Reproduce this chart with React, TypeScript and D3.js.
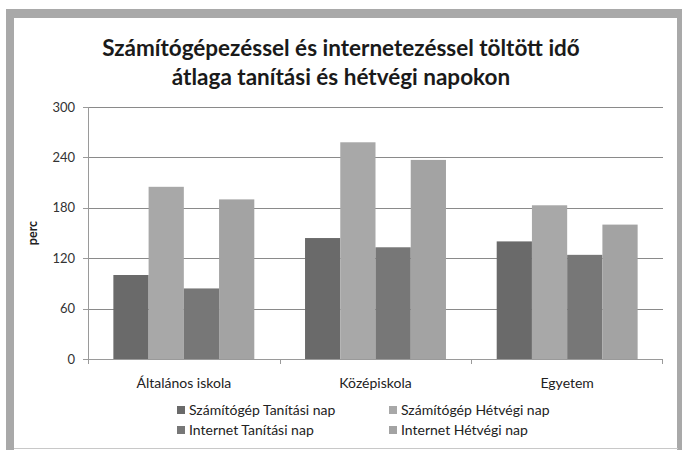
import React from "react";
import * as d3 from "d3";

const categories = ["Általános iskola", "Középiskola", "Egyetem"];
const seriesNames = [
  "Számítógép Tanítási nap",
  "Számítógép Hétvégi nap",
  "Internet Tanítási nap",
  "Internet Hétvégi nap",
];
const szamitogepTanitasi = [100, 144, 140];
const szamitogepHetvegi = [205, 258, 183];
const internetTanitasi = [84, 133, 124];
const internetHetvegi = [190, 237, 160];
const yTicks = [0, 60, 120, 180, 240, 300];
const titleLines = [
  "Számítógépezéssel és internetezéssel töltött idő",
  "átlaga tanítási és hétvégi napokon",
];
const yAxisLabel = "perc";

const seriesValues = [szamitogepTanitasi, szamitogepHetvegi, internetTanitasi, internetHetvegi];
const colors = ["#6a6a6a", "#a8a8a8", "#777777", "#a3a3a3"];

const W = 682;
const H = 450;
const plot = { left: 88, right: 663, top: 107, bottom: 359 };
const font = "Lato, 'Open Sans', sans-serif";

export default function App() {
  const x0 = d3
    .scaleBand<string>()
    .domain(categories)
    .range([plot.left, plot.right])
    .paddingInner(0)
    .paddingOuter(0);
  const inner = d3
    .scaleBand<number>()
    .domain(d3.range(seriesNames.length))
    .range([0, x0.bandwidth()])
    .paddingInner(0)
    .paddingOuter(0.72);
  const y = d3.scaleLinear().domain([0, 300]).range([plot.bottom, plot.top]);

  const legendPos = [
    { x: 177, y: 410 },
    { x: 389, y: 410 },
    { x: 177, y: 430 },
    { x: 389, y: 430 },
  ];

  return (
    <div style={{ position: "absolute", left: 0, top: 0 }}>
      <svg width={W} height={H} style={{ display: "block" }}>
        <rect x={0} y={0} width={W} height={H} fill="#ffffff" />
        {/* frame */}
        <rect x={6} y={9} width={676} height={9} fill="#a9a9a9" />
        <rect x={6} y={9} width={8} height={441} fill="#a9a9a9" />
        <rect x={677} y={9} width={5} height={441} fill="#a9a9a9" />
        <line x1={14} x2={678} y1={448.5} y2={448.5} stroke="#c8c8c8" />

        {/* title */}
        {titleLines.map((t, i) => (
          <text
            key={i}
            x={341}
            y={56 + i * 29}
            textAnchor="middle"
            fontFamily={font}
            fontWeight="bold"
            fontSize={22.5}
            fill="#1a1a1a"
          >
            {t}
          </text>
        ))}

        {/* gridlines */}
        {yTicks.map((t) => (
          <g key={t}>
            {t > 0 && (
              <line
                x1={plot.left}
                x2={plot.right}
                y1={Math.round(y(t)) + 0.5}
                y2={Math.round(y(t)) + 0.5}
                stroke="#8a8a8a"
                strokeWidth={1}
              />
            )}
            <line
              x1={plot.left - 5}
              x2={plot.left}
              y1={Math.round(y(t)) + 0.5}
              y2={Math.round(y(t)) + 0.5}
              stroke="#9a9a9a"
            />
            <text
              x={75}
              y={y(t) + 4.5}
              textAnchor="end"
              fontFamily={font}
              fontSize={13}
              fill="#333"
            >
              {t}
            </text>
          </g>
        ))}

        {/* bars */}
        {categories.map((c, ci) => (
          <g key={c} transform={`translate(${x0(c)},0)`}>
            {seriesValues.map((vals, si) => (
              <rect
                key={si}
                x={inner(si)}
                y={y(vals[ci])}
                width={inner.bandwidth()}
                height={plot.bottom - y(vals[ci])}
                fill={colors[si]}
              />
            ))}
          </g>
        ))}

        {/* axes */}
        <line x1={plot.left + 0.5} x2={plot.left + 0.5} y1={plot.top} y2={plot.bottom} stroke="#9a9a9a" />
        <line x1={plot.left} x2={plot.right} y1={plot.bottom + 0.5} y2={plot.bottom + 0.5} stroke="#9a9a9a" />
        {categories.map((c, i) => (
          <line
            key={"t" + i}
            x1={Math.round(x0(c) as number) + 0.5}
            x2={Math.round(x0(c) as number) + 0.5}
            y1={plot.bottom}
            y2={plot.bottom + 5}
            stroke="#9a9a9a"
          />
        ))}
        <line x1={plot.right - 0.5} x2={plot.right - 0.5} y1={plot.bottom} y2={plot.bottom + 5} stroke="#9a9a9a" />

        {/* category labels */}
        {categories.map((c) => (
          <text
            key={c}
            x={(x0(c) as number) + x0.bandwidth() / 2}
            y={388}
            textAnchor="middle"
            fontFamily={font}
            fontSize={14}
            fill="#222"
          >
            {c}
          </text>
        ))}

        {/* y label */}
        <text
          transform={`translate(37,${(plot.top + plot.bottom) / 2}) rotate(-90)`}
          textAnchor="middle"
          fontFamily={font}
          fontWeight="bold"
          fontSize={12.5}
          fill="#222"
        >
          {yAxisLabel}
        </text>

        {/* legend */}
        {seriesNames.map((n, i) => (
          <g key={n} transform={`translate(${legendPos[i].x},${legendPos[i].y})`}>
            <rect x={0} y={-4} width={8} height={8} fill={colors[i]} />
            <text x={12} y={5} fontFamily={font} fontSize={14} fill="#222">
              {n}
            </text>
          </g>
        ))}
      </svg>
    </div>
  );
}
